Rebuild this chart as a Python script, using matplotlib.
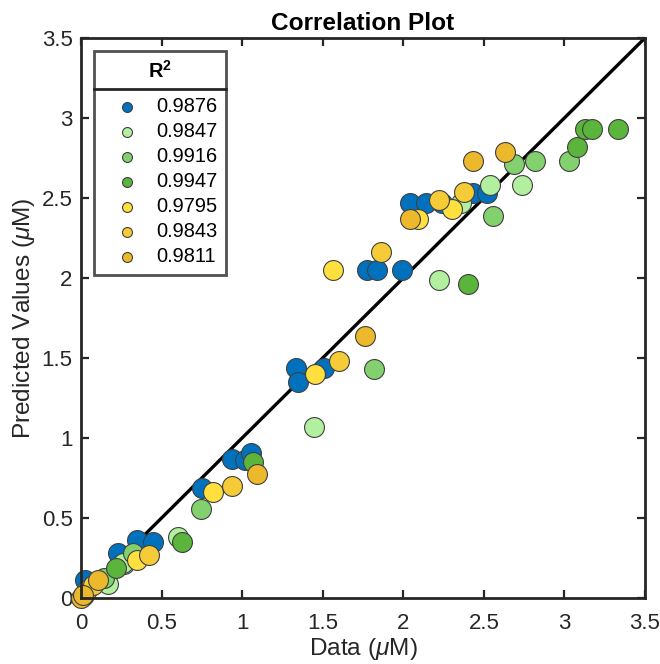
import numpy as np
import matplotlib
matplotlib.use("Agg")
import matplotlib.pyplot as plt
from matplotlib.lines import Line2D

plt.rcParams['font.family'] = ['Liberation Sans', 'DejaVu Sans']
plt.rcParams['mathtext.fontset'] = 'custom'
plt.rcParams['mathtext.it'] = 'Liberation Sans:italic'
plt.rcParams['mathtext.rm'] = 'Liberation Sans'
plt.rcParams['mathtext.bf'] = 'Liberation Sans:bold'

# R^2 labels and colours of each series
r2_labels = ['0.9876', '0.9847', '0.9916', '0.9947', '0.9795', '0.9843', '0.9811']
colors = ['#0072BD', '#B2F0A0', '#82D16E', '#5BB43C', '#FFE03E', '#F5CB38', '#ECB82C']

# measured data (x) vs predicted values (y), one list per series
x1 = [0.02, 0.025, 0.23, 0.35, 0.45, 0.75, 0.94, 1.02, 1.055, 1.335, 1.345, 1.51,
      1.775, 1.84, 1.99, 2.04, 2.14, 2.24, 2.43, 2.52]
y1 = [0.02, 0.11, 0.28, 0.36, 0.35, 0.69, 0.87, 0.86, 0.905, 1.44, 1.35, 1.44,
      2.05, 2.05, 2.05, 2.47, 2.47, 2.47, 2.53, 2.53]
x2 = [0.17, 0.27, 0.26, 0.60, 1.445, 2.22, 2.36, 2.54, 2.74]
y2 = [0.09, 0.21, 0.22, 0.38, 1.07, 1.99, 2.47, 2.58, 2.58]
x3 = [0.14, 0.32, 0.745, 1.82, 2.56, 2.69, 2.82, 3.03]
y3 = [0.125, 0.28, 0.555, 1.43, 2.39, 2.71, 2.73, 2.73]
x4 = [0.22, 0.625, 1.07, 2.40, 3.08, 3.13, 3.17, 3.33]
y4 = [0.19, 0.35, 0.85, 1.96, 2.82, 2.93, 2.93, 2.93]
x5 = [0.01, 0.35, 0.82, 1.45, 1.565, 2.09, 2.30]
y5 = [0.01, 0.24, 0.66, 1.40, 2.05, 2.37, 2.43]
x6 = [0.035, 0.075, 0.42, 0.94, 1.60, 1.86, 2.22, 2.38]
y6 = [0.05, 0.08, 0.27, 0.70, 1.48, 2.16, 2.49, 2.54]
x7 = [0.0, 0.015, 0.105, 1.09, 1.76, 2.04, 2.43, 2.63]
y7 = [0.0, 0.02, 0.11, 0.775, 1.64, 2.37, 2.73, 2.79]

xs = [x1, x2, x3, x4, x5, x6, x7]
ys = [y1, y2, y3, y4, y5, y6, y7]

fig = plt.figure(figsize=(6.6, 6.64), dpi=100)
ax = fig.add_axes([0.1227, 0.0994, 0.8545, 0.8434])

ax.plot([0, 3.5], [0, 3.5], color='black', lw=2.4, zorder=1)

for x, y, c, lab in zip(xs, ys, colors, r2_labels):
    ax.scatter(x, y, s=205, color=c, edgecolors='#404040', linewidths=0.8,
               label=lab, zorder=2, clip_on=False)

ax.set_xlim(0, 3.5)
ax.set_ylim(0, 3.5)
ticks = np.arange(0, 3.51, 0.5)
ax.set_xticks(ticks)
ax.set_yticks(ticks)
ax.set_xticklabels(['%g' % t for t in ticks])
ax.set_yticklabels(['%g' % t for t in ticks])
ax.tick_params(direction='in', length=6, width=1.6, top=True, right=True,
               labelsize=16, colors='#262626')
ax.tick_params(axis='x', pad=11)
ax.tick_params(axis='y', pad=6)
for sp in ax.spines.values():
    sp.set_linewidth(2)
    sp.set_color('#262626')

ax.set_xlabel(r'Data ($\mu$M)', fontsize=17.6, color='#262626', labelpad=1)
ax.set_ylabel(r'Predicted Values ($\mu$M)', fontsize=17.6, color='#262626', labelpad=3)
ax.set_title('Correlation Plot', fontsize=17.6, fontweight='bold', pad=6)

leg = ax.legend(title=r'$\mathbf{R^2}$', loc='upper left', bbox_to_anchor=(0.023, 0.977),
                fontsize=14.4, title_fontsize=14.4, frameon=True, fancybox=False,
                edgecolor='#262626', markerscale=0.5, handletextpad=0.25,
                borderpad=0.45, labelspacing=0.3, handlelength=2.4, borderaxespad=0)
leg.get_frame().set_linewidth(2)
leg._legend_box.sep = 11

fig.canvas.draw()
lb = leg.get_window_extent()
tb = leg.get_title().get_window_extent()
inv = fig.transFigure.inverted()
y_line = tb.y0 - 7
(x0, yl), (x1_, _) = inv.transform([(lb.x0, y_line), (lb.x1, y_line)])
fig.add_artist(Line2D([x0, x1_], [yl, yl], color='#262626', lw=2))

fig.savefig('out.png', dpi=100)
